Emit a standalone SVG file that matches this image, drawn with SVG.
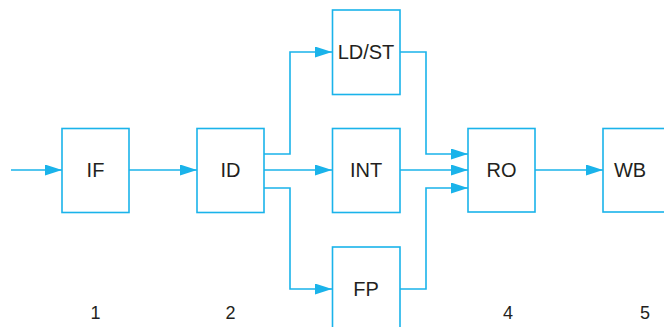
<svg xmlns="http://www.w3.org/2000/svg" width="664" height="327" viewBox="0 0 664 327">
<style>
.box{fill:#fff;stroke:#1ab3ea;stroke-width:1.6}
.ln{fill:none;stroke:#1ab3ea;stroke-width:1.6}
.t{font-family:"Liberation Sans",Arial,sans-serif;font-size:20px;fill:#231f20;text-anchor:middle}
.n{font-family:"Liberation Sans",Arial,sans-serif;font-size:18px;fill:#231f20;text-anchor:middle}
</style>
<defs>
<marker id="ah" markerWidth="18" markerHeight="11" refX="17" refY="5.5" orient="auto" markerUnits="userSpaceOnUse">
<path d="M0,0 L17,5.5 L0,11 Z" fill="#1ab3ea"/>
</marker>
</defs>
<rect width="664" height="327" fill="#fff"/>
<g id="connectors">
<path class="ln" d="M11,170 H62" marker-end="url(#ah)"/>
<path class="ln" d="M129,170 H197" marker-end="url(#ah)"/>
<path class="ln" d="M264,154 H290 V52 H332" marker-end="url(#ah)"/>
<path class="ln" d="M264,170 H332" marker-end="url(#ah)"/>
<path class="ln" d="M264,188 H290 V289 H332" marker-end="url(#ah)"/>
<path class="ln" d="M400,52 H426 V154 H468" marker-end="url(#ah)"/>
<path class="ln" d="M400,170 H468" marker-end="url(#ah)"/>
<path class="ln" d="M400,289 H426 V188 H468" marker-end="url(#ah)"/>
<path class="ln" d="M535,170 H603" marker-end="url(#ah)"/>
</g>
<g id="IF"><rect class="box" x="62" y="128.5" width="67" height="84"/><text class="t" x="95.5" y="177">IF</text></g>
<g id="ID"><rect class="box" x="197" y="128.5" width="67" height="84"/><text class="t" x="230.5" y="177">ID</text></g>
<g id="LDST"><rect class="box" x="332.5" y="10" width="67.5" height="84.5"/><text class="t" x="366" y="59">LD/ST</text></g>
<g id="INT"><rect class="box" x="332.5" y="128.5" width="67.5" height="84"/><text class="t" x="366" y="177">INT</text></g>
<g id="FP"><rect class="box" x="332.5" y="247" width="67.5" height="90"/><text class="t" x="366" y="296">FP</text></g>
<g id="RO"><rect class="box" x="468" y="128.5" width="67" height="83.5"/><text class="t" x="501.5" y="177">RO</text></g>
<g id="WB"><rect class="box" x="603" y="128.5" width="70" height="83.5"/><text class="t" x="630" y="177">WB</text></g>
<g id="labels">
<text class="n" x="95.5" y="319">1</text>
<text class="n" x="230.5" y="319">2</text>
<text class="n" x="508" y="319">4</text>
<text class="n" x="645" y="319">5</text>
</g>
</svg>
